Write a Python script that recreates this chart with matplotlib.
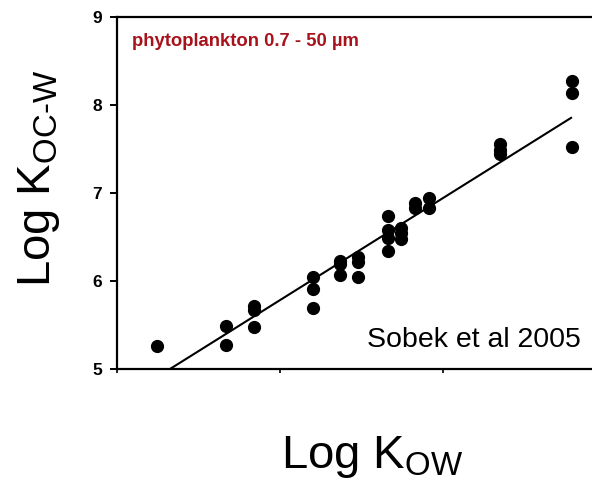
import matplotlib
matplotlib.use("Agg")
import matplotlib.pyplot as plt
import numpy as np

plt.rcParams['font.family'] = ['Liberation Sans', 'DejaVu Sans']
plt.rcParams['mathtext.fontset'] = 'custom'
plt.rcParams['mathtext.rm'] = 'Liberation Sans'
plt.rcParams['mathtext.default'] = 'regular'

# Measured partition coefficients (log Kow vs log Koc-w)
log_kow = [4.245,
           4.669, 4.669,
           4.840, 4.840, 4.840,
           5.202, 5.202, 5.202,
           5.368, 5.368, 5.368,
           5.479, 5.479, 5.479,
           5.663, 5.663, 5.663, 5.663,
           5.742, 5.742, 5.742,
           5.828, 5.828,
           5.914, 5.914,
           6.350, 6.350, 6.350,
           6.791, 6.791, 6.791]
log_koc = [5.26,
           5.49, 5.27,
           5.72, 5.67, 5.48,
           6.05, 5.91, 5.69,
           6.23, 6.19, 6.07,
           6.27, 6.22, 6.05,
           6.74, 6.58, 6.49, 6.34,
           6.60, 6.54, 6.48,
           6.89, 6.83,
           6.94, 6.83,
           7.56, 7.49, 7.44,
           8.27, 8.14, 7.52]

# Regression line end points
fit_x = [4.325, 6.791]
fit_y = [5.0, 7.86]

y_ticks = [5, 6, 7, 8, 9]
x_ticks = [4, 5, 6, 7]

W, H = 592, 479
fig = plt.figure(figsize=(W / 100, H / 100), dpi=100)

def fx(px):
    return px / W

def fy(py):
    return (H - py) / H

left, right, top, bottom = 117, 606, 17, 369
ax = fig.add_axes([fx(left), fy(bottom), fx(right) - fx(left), fy(top) - fy(bottom)])
ax.set_xlim(4, 7)
ax.set_ylim(5, 9)

ax.plot(fit_x, fit_y, color='black', lw=1.5, solid_capstyle='butt', zorder=2)
ax.plot(log_kow, log_koc, 'o', color='black', ms=8.5, mec='black', zorder=3)

for s in ['left', 'top', 'bottom']:
    ax.spines[s].set_linewidth(1.6)
ax.spines['right'].set_visible(False)

ax.set_yticks(y_ticks)
ax.set_yticklabels([str(v) for v in y_ticks], fontweight='bold', fontsize=12.5)
ax.set_xticks(x_ticks)
ax.set_xticklabels([])
ax.tick_params(axis='y', direction='out', length=5, width=1.4, pad=6)
ax.tick_params(axis='x', direction='out', length=3, width=1.2)

ax.text(fx(132), fy(46), 'phytoplankton 0.7 - 50 µm', transform=fig.transFigure,
        color='#a8121c', fontsize=13.3, fontweight='bold', ha='left', va='baseline')
ax.text(fx(367), fy(347), 'Sobek et al 2005', transform=fig.transFigure,
        color='black', fontsize=20.5, ha='left', va='baseline')

fig.text(fx(281), fy(468), r'Log K$_{\text{OW}}$', fontsize=34, ha='left', va='baseline')
fig.text(fx(62), fy(287), r'Log K$_{\text{OC-W}}$', fontsize=34, rotation=90,
         ha='right', va='bottom', rotation_mode='default')

fig.savefig('out.png', dpi=100)
